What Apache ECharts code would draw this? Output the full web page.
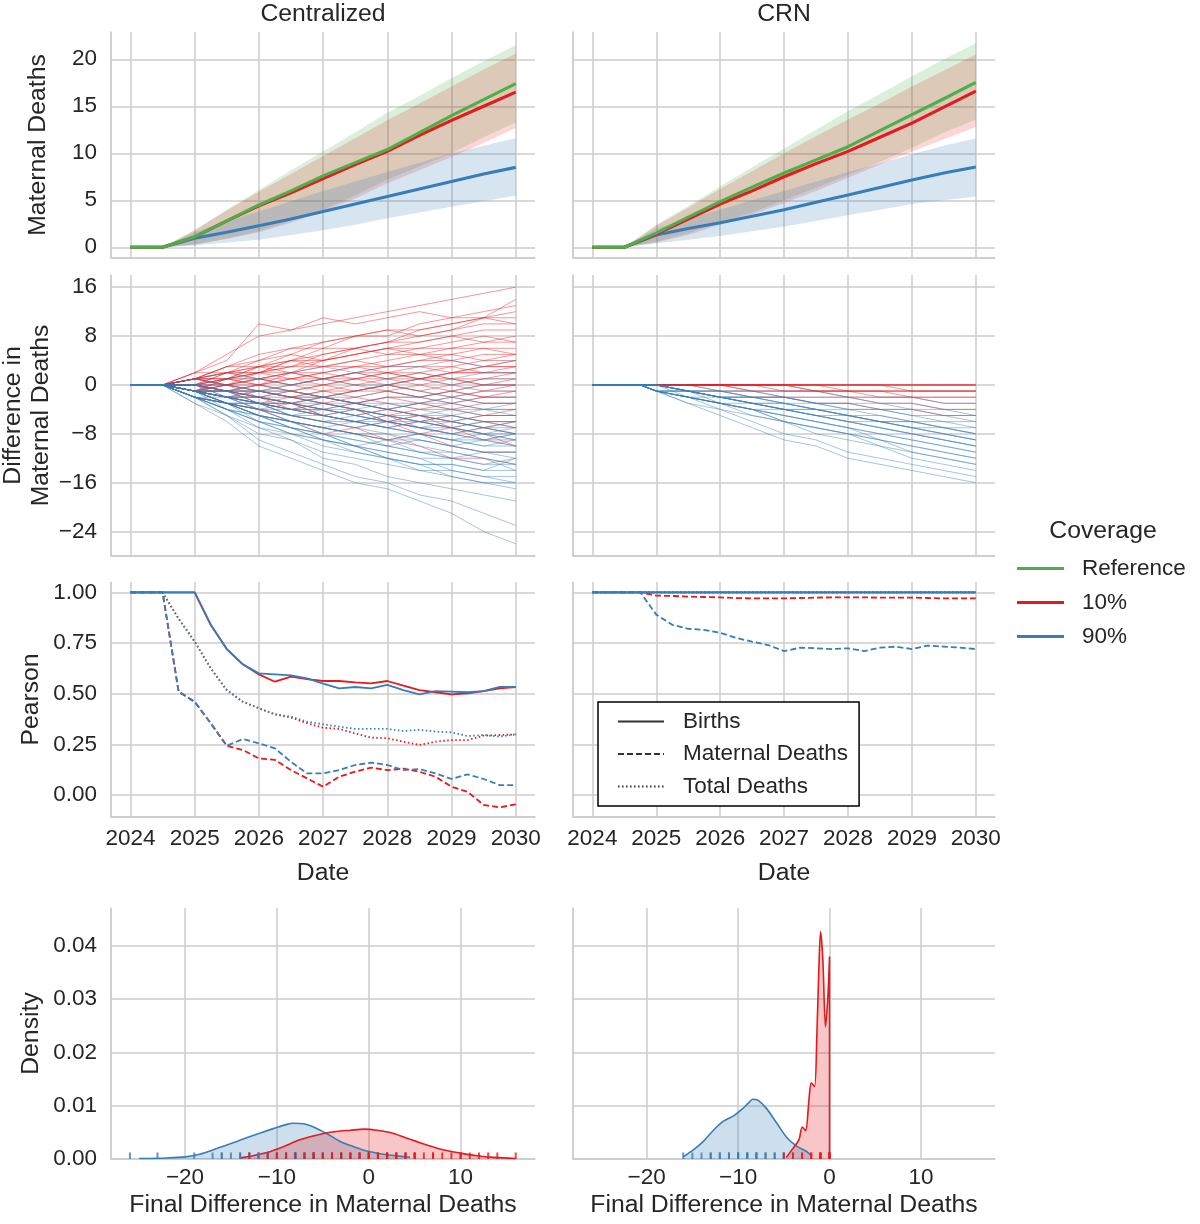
<!DOCTYPE html>
<html>
<head>
<meta charset="utf-8">
<title>Maternal deaths: Centralized vs CRN</title>
<script src="https://cdn.jsdelivr.net/npm/echarts@6/dist/echarts.min.js"></script>
<style>
  html, body { margin: 0; padding: 0; background: #fff; }
  #chart { width: 1200px; height: 1224px; }
</style>
</head>
<body>
<div id="chart"></div>
<script>
// ---------------- data ----------------
const panelNames = ['Centralized', 'CRN'];
const coverageNames = ['Reference', '10%', '90%'];
const measureNames = ['Births', 'Maternal Deaths', 'Total Deaths'];

// row 1: cumulative maternal deaths, mean and interval band
const cumDates = [2024, 2024.5, 2025, 2025.5, 2026, 2026.5, 2027, 2027.5, 2028, 2028.5, 2029, 2029.5, 2030];
const centRef   = [0, 0, 1.1, 2.8, 4.5, 6.0, 7.6, 9.0, 10.4, 12.2, 14.0, 15.7, 17.4];
const centRefLo = [0, 0, 0.3, 0.9, 1.7, 2.8, 4.0, 5.5, 7.2, 8.6, 10.0, 11.7, 13.3];
const centRefHi = [0, 0, 1.8, 4.0, 6.1, 8.2, 10.2, 12.2, 14.3, 16.1, 18.0, 19.8, 21.5];
const cent10    = [0, 0, 1.1, 2.8, 4.4, 5.8, 7.3, 8.8, 10.2, 11.9, 13.5, 15.0, 16.5];
const cent10Lo  = [0, 0, 0.3, 0.9, 1.6, 2.6, 3.8, 5.2, 6.8, 8.2, 9.6, 11.1, 12.7];
const cent10Hi  = [0, 0, 1.8, 3.9, 5.9, 7.8, 9.7, 11.6, 13.5, 15.3, 17.1, 18.9, 20.6];
const cent90    = [0, 0, 0.95, 1.6, 2.3, 3.0, 3.8, 4.6, 5.4, 6.2, 7.0, 7.8, 8.5];
const cent90Lo  = [0, 0, 0.2, 0.5, 0.8, 1.3, 1.8, 2.4, 3.1, 3.7, 4.3, 4.9, 5.5];
const cent90Hi  = [0, 0, 1.6, 2.8, 3.8, 4.9, 6.0, 7.0, 8.0, 9.0, 10.0, 10.8, 11.6];
const crnRef    = [0, 0, 1.5, 3.2, 4.85, 6.4, 7.9, 9.3, 10.7, 12.4, 14.1, 15.8, 17.55];
const crnRefLo  = [0, 0, 0.6, 1.5, 2.6, 3.7, 5.0, 6.3, 7.7, 9.1, 10.6, 12.2, 13.6];
const crnRefHi  = [0, 0, 2.4, 4.4, 6.5, 8.5, 10.5, 12.5, 14.5, 16.3, 18.2, 20.0, 21.7];
const crn10     = [0, 0, 1.4, 3.0, 4.6, 6.0, 7.5, 8.9, 10.2, 11.7, 13.2, 14.9, 16.6];
const crn10Lo   = [0, 0, 0.5, 1.3, 2.4, 3.5, 4.7, 6.0, 7.4, 8.8, 10.2, 11.5, 12.8];
const crn10Hi   = [0, 0, 2.3, 4.2, 6.2, 8.1, 10.0, 11.8, 13.6, 15.3, 17.1, 18.8, 20.5];
const crn90     = [0, 0, 1.3, 2.0, 2.6, 3.3, 4.0, 4.8, 5.55, 6.35, 7.15, 7.9, 8.55];
const crn90Lo   = [0, 0, 0.4, 0.8, 1.2, 1.7, 2.2, 2.8, 3.4, 4.0, 4.6, 5.0, 5.4];
const crn90Hi   = [0, 0, 2.0, 3.0, 4.0, 5.0, 6.0, 7.0, 8.0, 8.9, 9.9, 10.8, 11.6];

// row 2: per-run difference in maternal deaths
const centDiffDates = [2024, 2024.5, 2025, 2025.5, 2026, 2026.5, 2027, 2027.5, 2028, 2028.5, 2029, 2029.5, 2030];
const centDiff10 = [
  [0,0,2,5,8,9,10,11,12,13,14,15,16],
  [0,0,1,3,4,6,7,8,8,10,11,12,13],
  [0,0,2,4,10,9,11,10,11,12,11,11,11],
  [0,0,1,2,4,5,7,8,9,8,9,10,10],
  [0,0,0,1,3,4,4,6,7,7,8,9,9],
  [0,0,1,3,3,5,4,5,6,7,8,7,8],
  [0,0,2,2,3,3,5,6,5,6,6,7,7],
  [0,0,-1,0,2,3,3,4,5,5,6,6,6],
  [0,0,1,1,0,2,3,3,4,5,4,5,5],
  [0,0,0,2,3,2,4,5,6,5,5,6,5],
  [0,0,1,0,1,2,2,3,2,3,3,4,4],
  [0,0,-1,1,2,2,1,2,3,3,2,3,3],
  [0,0,1,2,1,0,1,2,1,2,3,2,2],
  [0,0,0,-1,0,1,2,1,2,1,2,2,2],
  [0,0,1,1,2,1,0,1,0,1,1,0,1],
  [0,0,0,1,0,-1,0,1,1,0,-1,0,0],
  [0,0,-1,-1,0,1,1,0,-1,0,1,0,0],
  [0,0,1,0,-1,-1,-2,-1,0,-1,-2,-1,-1],
  [0,0,0,-1,-2,-1,0,-1,-1,-2,-1,-2,-1],
  [0,0,-1,-2,-1,-2,-3,-2,-1,-2,-3,-2,-2],
  [0,0,0,-1,-1,-2,-2,-3,-2,-3,-4,-3,-3],
  [0,0,-1,0,-2,-3,-2,-3,-4,-3,-2,-3,-3],
  [0,0,-1,-2,-3,-2,-3,-4,-5,-4,-4,-5,-4],
  [0,0,0,-1,-2,-3,-4,-3,-4,-5,-6,-5,-5],
  [0,0,-1,-2,-2,-4,-3,-4,-5,-6,-5,-6,-6],
  [0,0,-1,-1,-3,-4,-5,-4,-6,-5,-7,-6,-7],
  [0,0,-2,-3,-4,-3,-5,-6,-5,-7,-8,-7,-8],
  [0,0,-1,-3,-4,-5,-6,-7,-6,-8,-7,-9,-9],
  [0,0,-2,-3,-5,-6,-7,-8,-9,-8,-10,-11,-11],
  [0,0,-1,-3,-4,-6,-8,-7,-9,-10,-12,-12,-13],
  [0,0,0,1,2,4,5,6,7,9,10,11,12],
  [0,0,1,2,2,3,4,5,6,6,7,8,7],
  [0,0,-1,1,3,4,3,4,3,4,5,4,5],
  [0,0,0,0,1,1,2,3,3,4,4,3,4],
  [0,0,1,1,1,2,1,2,2,1,2,3,3],
  [0,0,0,-1,-1,0,1,1,2,2,1,1,2],
  [0,0,-1,0,1,0,-1,0,1,1,0,1,1],
  [0,0,0,0,-1,-2,-1,-1,0,-1,0,-1,0],
  [0,0,1,0,0,-1,-2,-3,-2,-2,-1,-2,-2],
  [0,0,-1,-1,-2,-2,-1,-2,-3,-4,-3,-4,-4],
  [0,0,0,-2,-3,-4,-4,-5,-4,-5,-6,-7,-6],
  [0,0,-1,-2,-2,-3,-5,-6,-7,-6,-7,-8,-10],
  [0,0,1,3,5,6,6,8,9,9,10,11,10],
  [0,0,0,2,2,4,6,6,7,8,9,11,14],
  [0,0,-1,-2,-3,-3,-2,-1,0,1,2,2,3]
];
const centDiff90 = [
  [0,0,1,2,1,2,3,2,3,3,4,3,4],
  [0,0,0,1,1,0,1,2,1,2,1,2,2],
  [0,0,1,0,-1,0,1,0,0,1,0,1,1],
  [0,0,0,-1,0,-1,-2,-1,0,-1,-2,-1,-1],
  [0,0,-1,-1,-2,-1,-2,-3,-2,-2,-3,-2,-2],
  [0,0,0,-1,-2,-3,-2,-3,-4,-3,-3,-4,-3],
  [0,0,-1,-2,-1,-2,-3,-4,-3,-4,-5,-4,-4],
  [0,0,-1,-1,-3,-3,-4,-3,-4,-5,-4,-5,-5],
  [0,0,0,-2,-2,-3,-4,-5,-4,-5,-6,-5,-5],
  [0,0,-1,-2,-3,-4,-3,-4,-5,-6,-5,-6,-6],
  [0,0,-1,-3,-3,-4,-5,-4,-6,-5,-6,-7,-6],
  [0,0,-2,-2,-3,-5,-4,-5,-6,-7,-6,-7,-7],
  [0,0,-1,-2,-4,-4,-5,-6,-5,-6,-7,-6,-7],
  [0,0,-1,-3,-4,-5,-6,-5,-6,-7,-8,-7,-8],
  [0,0,-2,-3,-3,-4,-5,-6,-7,-6,-7,-8,-8],
  [0,0,-1,-2,-3,-5,-6,-7,-6,-7,-8,-9,-8],
  [0,0,-2,-3,-4,-5,-5,-6,-7,-8,-9,-8,-9],
  [0,0,-1,-3,-5,-6,-7,-6,-7,-8,-9,-10,-9],
  [0,0,-2,-4,-5,-6,-7,-8,-9,-8,-9,-10,-10],
  [0,0,-1,-2,-4,-6,-7,-8,-8,-9,-10,-9,-10],
  [0,0,-2,-3,-5,-6,-8,-9,-10,-9,-10,-11,-11],
  [0,0,-1,-3,-5,-7,-8,-9,-10,-11,-12,-11,-12],
  [0,0,-2,-4,-6,-7,-8,-10,-9,-11,-12,-13,-12],
  [0,0,-2,-3,-6,-8,-9,-10,-11,-12,-12,-13,-13],
  [0,0,-1,-4,-6,-7,-9,-11,-12,-13,-13,-14,-14],
  [0,0,-2,-4,-7,-8,-10,-11,-12,-14,-14,-15,-15],
  [0,0,-2,-5,-7,-9,-11,-12,-13,-14,-15,-16,-16],
  [0,0,-3,-5,-8,-9,-12,-13,-15,-16,-17,-18,-19],
  [0,0,-2,-5,-9,-11,-13,-15,-16,-18,-19,-21,-23],
  [0,0,-3,-6,-10,-12,-14,-16,-17,-19,-21,-24,-26],
  [0,0,0,-1,-1,-2,-2,-3,-3,-3,-2,-3,-3],
  [0,0,-1,-1,-2,-3,-4,-4,-5,-5,-5,-6,-6],
  [0,0,-1,-2,-3,-3,-4,-5,-6,-7,-7,-8,-7],
  [0,0,0,-1,-3,-4,-4,-5,-6,-6,-7,-8,-9],
  [0,0,-2,-3,-3,-4,-5,-6,-6,-7,-8,-9,-8],
  [0,0,-1,-2,-4,-5,-6,-6,-7,-8,-9,-9,-10],
  [0,0,-1,-3,-4,-6,-7,-8,-9,-9,-10,-11,-11],
  [0,0,-2,-3,-5,-6,-7,-8,-10,-11,-11,-12,-13],
  [0,0,-1,-2,-3,-5,-6,-7,-8,-10,-11,-12,-14],
  [0,0,-2,-4,-5,-7,-9,-10,-11,-12,-14,-15,-16],
  [0,0,-1,-3,-5,-7,-8,-10,-12,-13,-15,-16,-17],
  [0,0,0,0,-1,-1,-2,-2,-1,-2,-1,0,0],
  [0,0,-1,-1,-1,-2,-3,-3,-4,-3,-4,-4,-5],
  [0,0,-2,-4,-6,-8,-9,-10,-12,-13,-13,-14,-12],
  [0,0,-1,-2,-2,-3,-3,-4,-5,-6,-6,-7,-8]
];
const crnDiffDates = [2024, 2024.75, 2025, 2025.5, 2026, 2026.5, 2027, 2027.5, 2028, 2028.5, 2029, 2029.5, 2030];
const crnDiff10 = [
  [0,0,0,0,0,0,0,0,0,0,0,0,0],
  [0,0,0,0,0,0,0,0,0,0,0,0,0],
  [0,0,0,0,0,0,0,0,0,0,0,0,0],
  [0,0,0,0,0,0,0,0,0,0,0,0,0],
  [0,0,0,0,0,0,0,0,-1,-1,-1,-1,-1],
  [0,0,0,0,0,0,0,-1,-1,-1,-1,-1,-1],
  [0,0,0,0,0,0,0,0,0,0,-1,-1,-1],
  [0,0,0,0,0,0,-1,-1,-1,-1,-1,-1,-1],
  [0,0,0,0,0,0,0,-1,-1,-1,-2,-2,-2],
  [0,0,0,0,0,-1,-1,-1,-1,-2,-2,-2,-2],
  [0,0,0,0,0,-1,-1,-1,-2,-2,-2,-3,-3],
  [0,0,0,0,-1,-1,-2,-2,-2,-3,-3,-4,-4],
  [0,0,0,-1,-1,-2,-2,-3,-3,-4,-4,-5,-5]
];
const crnDiff90 = [
  [0,0,0,0,-1,-1,-1,-1,-2,-2,-2,-3,-3],
  [0,0,0,-1,-1,-1,-2,-2,-2,-3,-3,-4,-4],
  [0,0,0,-1,-1,-2,-2,-3,-3,-4,-4,-5,-5],
  [0,0,-1,-1,-2,-2,-2,-3,-3,-3,-4,-4,-5],
  [0,0,0,-1,-2,-2,-3,-3,-4,-4,-5,-5,-6],
  [0,0,0,-1,-1,-2,-2,-3,-4,-4,-5,-6,-6],
  [0,0,0,-1,-2,-2,-3,-4,-4,-5,-6,-6,-7],
  [0,0,-1,-1,-2,-3,-3,-4,-5,-5,-6,-7,-7],
  [0,0,0,-1,-2,-3,-3,-4,-5,-6,-6,-7,-8],
  [0,0,-1,-1,-2,-3,-4,-4,-5,-6,-7,-7,-8],
  [0,0,0,-1,-2,-2,-3,-4,-5,-6,-6,-7,-8],
  [0,0,0,-1,-2,-3,-4,-5,-5,-6,-7,-8,-9],
  [0,0,-1,-2,-2,-3,-4,-5,-6,-6,-7,-8,-9],
  [0,0,0,-1,-2,-3,-4,-4,-5,-6,-7,-8,-9],
  [0,0,-1,-1,-2,-3,-4,-5,-6,-7,-8,-9,-10],
  [0,0,0,-2,-3,-3,-4,-5,-6,-7,-8,-9,-10],
  [0,0,-1,-2,-3,-4,-4,-5,-6,-7,-8,-9,-10],
  [0,0,-1,-2,-3,-4,-5,-6,-7,-8,-9,-10,-11],
  [0,0,0,-1,-3,-4,-5,-6,-7,-8,-9,-10,-11],
  [0,0,-1,-2,-3,-4,-5,-6,-7,-9,-10,-11,-12],
  [0,0,-1,-2,-3,-4,-6,-7,-8,-9,-10,-11,-12],
  [0,0,-1,-2,-3,-5,-6,-7,-8,-9,-11,-12,-13],
  [0,0,-1,-2,-3,-4,-6,-7,-8,-10,-11,-12,-13],
  [0,0,-1,-2,-4,-5,-6,-8,-9,-10,-12,-13,-14],
  [0,0,-1,-3,-4,-6,-8,-9,-11,-12,-13,-14,-15],
  [0,0,-1,-3,-5,-7,-9,-10,-12,-13,-14,-15,-16]
];

// row 3: Pearson correlation, quarterly
const pearsonDates = [2024, 2024.25, 2024.5, 2024.75, 2025, 2025.25, 2025.5, 2025.75, 2026, 2026.25, 2026.5, 2026.75,
  2027, 2027.25, 2027.5, 2027.75, 2028, 2028.25, 2028.5, 2028.75, 2029, 2029.25, 2029.5, 2029.75, 2030];
const centBirths10 = [1,1,1,1,1,0.84,0.72,0.645,0.595,0.559,0.584,0.572,0.5625,0.5625,0.556,0.551,0.5625,0.54,0.518,0.507,0.497,0.502,0.513,0.526,0.533];
const centBirths90 = [1,1,1,1,1,0.84,0.72,0.645,0.60,0.595,0.59,0.575,0.55,0.526,0.533,0.526,0.543,0.518,0.497,0.513,0.51,0.507,0.513,0.533,0.533];
const centMD10 = [1,1,1,0.51,0.46,0.354,0.243,0.222,0.181,0.173,0.123,0.082,0.041,0.09,0.115,0.135,0.123,0.13,0.115,0.09,0.041,0.016,-0.049,-0.061,-0.046];
const centMD90 = [1,1,1,0.51,0.46,0.354,0.243,0.276,0.255,0.23,0.164,0.107,0.107,0.123,0.148,0.16,0.148,0.123,0.128,0.107,0.079,0.102,0.079,0.049,0.049];
const centTD10 = [1,1,1,0.87,0.757,0.625,0.518,0.46,0.428,0.398,0.382,0.354,0.332,0.326,0.304,0.283,0.28,0.263,0.247,0.263,0.271,0.271,0.293,0.296,0.299];
const centTD90 = [1,1,1,0.87,0.757,0.625,0.518,0.46,0.428,0.398,0.387,0.362,0.349,0.337,0.326,0.326,0.326,0.316,0.322,0.3125,0.309,0.291,0.296,0.288,0.299];
const crnBirths10 = [1,1,1,1,1,1,1,1,1,1,1,1,1,1,1,1,1,1,1,1,1,1,1,1,1];
const crnBirths90 = [1,1,1,1,1,1,1,1,1,1,1,1,1,1,1,1,1,1,1,1,1,1,1,1,1];
const crnMD10 = [1,1,1,1,0.984,0.982,0.979,0.977,0.975,0.972,0.97,0.97,0.97,0.972,0.974,0.975,0.975,0.975,0.974,0.974,0.974,0.972,0.97,0.97,0.97];
const crnMD90 = [1,1,1,1,0.89,0.84,0.82,0.815,0.80,0.775,0.757,0.74,0.71,0.727,0.724,0.72,0.724,0.71,0.727,0.732,0.72,0.737,0.732,0.727,0.72];
const crnTD10 = [1,1,1,1,1,1,1,1,1,1,1,1,1,1,1,1,1,1,1,1,1,1,1,1,1];
const crnTD90 = [1,1,1,1,1,1,1,1,1,1,1,1,1,1,1,1,1,1,1,1,1,1,1,1,1];

// row 4: density of the final difference
const centKde90X = [-25, -22, -20, -18.4, -16.5, -14.7, -13.3, -11.8, -10.4, -8.9, -8.2, -7.1, -6.0, -4.5, -3.1, -1.6, -0.2, 1.6, 3.5, 4.5];
const centKde90Y = [0.0001, 0.0002, 0.0004, 0.0009, 0.002, 0.0031, 0.004, 0.0049, 0.0057, 0.0065, 0.0067, 0.0066, 0.006, 0.0047, 0.0033, 0.0023, 0.0015, 0.0009, 0.0005, 0.0003];
const centKde10X = [-14, -12.9, -11.1, -9.3, -7.5, -5.6, -3.8, -2.0, -0.5, 0.9, 2.7, 4.5, 6.4, 8.2, 10, 11.8, 13.6, 16];
const centKde10Y = [0.0002, 0.0005, 0.0012, 0.0023, 0.0036, 0.0045, 0.0051, 0.0054, 0.0056, 0.0054, 0.0048, 0.0037, 0.0026, 0.0017, 0.0011, 0.0006, 0.0003, 0.0001];
const crnKde90X = [-16, -14.9, -13.8, -12.7, -11.6, -10.5, -9.6, -8.7, -8.4, -7.8, -6.9, -5.8, -4.7, -3.6, -2.5, -2.0];
const crnKde90Y = [0.0004, 0.0017, 0.0033, 0.0054, 0.0071, 0.0081, 0.0093, 0.0108, 0.0112, 0.011, 0.0095, 0.0068, 0.0041, 0.0024, 0.0014, 0.0006];
const crnKde10X = [-4.73, -4.0, -3.35, -2.98, -2.62, -2.25, -2.0, -1.64, -1.38, -1.16, -0.98, -0.73, -0.44, -0.18, 0, 0];
const crnKde10Y = [0.0003, 0.002, 0.0036, 0.006, 0.0053, 0.0111, 0.0143, 0.0136, 0.0236, 0.0361, 0.0427, 0.0374, 0.0248, 0.0305, 0.038, 0];

// ---------------- styling ----------------
const FONT = '"Liberation Sans", Arial, sans-serif';
const TEXT = '#262626';
const GRIDC = '#cccccc';
const GREEN = '#4daf4a', RED = '#e41a1c', BLUE = '#377eb8';
const BAND = { g: 'rgba(77,175,74,0.2)', r: 'rgba(228,26,28,0.18)', b: 'rgba(55,126,184,0.2)' };
const TICK_FS = 22.5, LABEL_FS = 24.75;

const colX = [111, 573], colW = [424, 422];
const rowY = [32, 275, 582, 908], rowH = [226, 281, 235, 251];

const grids = [];
for (let r = 0; r < 4; r++) {
  for (let c = 0; c < 2; c++) {
    grids.push({ left: colX[c], top: rowY[r], width: colW[c], height: rowH[r],
      containLabel: false, outerBoundsMode: 'none' });
  }
}

const minus = s => String(s).replace('-', '\u2212');
const onStep = (v, step) => Math.abs(v / step - Math.round(v / step)) < 1e-6;

function axisBase(i, min, max, step, fmt, showLabel, margin) {
  return {
    type: 'value', gridIndex: i, min: min, max: max,
    minInterval: step, maxInterval: step, splitNumber: 6,
    axisLine: { show: true, onZero: false, lineStyle: { color: GRIDC, width: 1.5 } },
    axisTick: { show: false },
    splitLine: { show: true, showMaxLine: false, lineStyle: { color: GRIDC, width: 1.5 } },
    axisLabel: {
      show: showLabel, margin: margin, fontSize: TICK_FS, fontFamily: FONT, color: TEXT,
      formatter: v => onStep(v, step) ? fmt(v) : ''
    },
    nameTextStyle: { fontSize: LABEL_FS, fontFamily: FONT, color: TEXT }
  };
}

const yearFmt = v => String(Math.round(v));
const xAxes = [], yAxes = [];
const dateMin = 2023.697, dateMax = 2030.3;
const yRanges = [
  { min: -1.14, max: 22.9, step: 5, fmt: v => String(Math.round(v)), name: 'Maternal Deaths', gap: 59 },
  { min: -28.0, max: 18.0, step: 8, fmt: v => minus(Math.round(v)), name: 'Difference in\nMaternal Deaths', gap: 54 },
  { min: -0.1085, max: 1.051, step: 0.25, fmt: v => v.toFixed(2), name: 'Pearson', gap: 66 },
  { min: 0, max: 0.0471, step: 0.01, fmt: v => v.toFixed(2), name: 'Density', gap: 66 }
];
for (let r = 0; r < 4; r++) {
  for (let c = 0; c < 2; c++) {
    const i = r * 2 + c;
    let xa;
    if (r < 3) {
      xa = axisBase(i, dateMin, dateMax, 1, yearFmt, r === 2, 10);
      if (r === 2) { xa.name = 'Date'; xa.nameLocation = 'middle'; xa.nameGap = 44; }
    } else {
      xa = axisBase(i, -28.06, 18.1, 10, v => minus(Math.round(v)), true, 7);
      xa.name = 'Final Difference in Maternal Deaths'; xa.nameLocation = 'middle'; xa.nameGap = 34;
    }
    xAxes.push(xa);
    const yr = yRanges[r];
    const ya = axisBase(i, yr.min, yr.max, yr.step, yr.fmt, c === 0, 14);
    if (c === 0) {
      ya.name = yr.name; ya.nameLocation = 'middle'; ya.nameGap = yr.gap;
      ya.nameTextStyle.lineHeight = 28;
    }
    yAxes.push(ya);
  }
}

// ---------------- series builders ----------------
const pairs = (xs, ys) => xs.map((x, k) => [x, ys[k]]);

// interval band drawn as one polygon through the axis scales
function band(i, dates, lo, hi, fill) {
  return {
    type: 'custom', xAxisIndex: i, yAxisIndex: i, silent: true, z: 1,
    encode: { x: 0, y: [1, 2] },
    data: dates.map((d, k) => [d, lo[k], hi[k]]),
    renderItem: (params, api) => {
      if (params.dataIndex !== 0) return null;
      const top = dates.map((d, k) => api.coord([d, hi[k]]));
      const bottom = dates.map((d, k) => api.coord([d, lo[k]])).reverse();
      return { type: 'polygon', shape: { points: top.concat(bottom) }, style: { fill: fill } };
    }
  };
}
function meanLine(i, dates, vals, color, name) {
  return { type: 'line', name: name, xAxisIndex: i, yAxisIndex: i, symbol: 'none', silent: true,
    lineStyle: { color: color, width: 3.1 }, itemStyle: { color: color }, data: pairs(dates, vals), z: 3 };
}
function spaghetti(i, dates, lines, color) {
  return lines.map(vals => ({ type: 'line', xAxisIndex: i, yAxisIndex: i, symbol: 'none', silent: true,
    lineStyle: { color: color, width: 0.9, opacity: 0.5 }, data: pairs(dates, vals), z: 2 }));
}
const dashTypes = { 'Births': 'solid', 'Maternal Deaths': [6, 3], 'Total Deaths': [1.5, 2.5] };
function pearson(i, vals, color, measure) {
  return { type: 'line', xAxisIndex: i, yAxisIndex: i, symbol: 'none', silent: true,
    lineStyle: { color: color, width: 1.8, type: dashTypes[measure] }, data: pairs(pearsonDates, vals), z: 3 };
}
function density(i, xs, ys, color) {
  return { type: 'line', xAxisIndex: i, yAxisIndex: i, symbol: 'none', silent: true, smooth: 0.3,
    lineStyle: { color: color, width: 1.6 }, areaStyle: { color: color, opacity: 0.25 },
    data: pairs(xs, ys), z: 2 };
}
function rug(i, lines, color) {
  const finals = lines.map(l => [l[l.length - 1], 0]);
  return { type: 'scatter', xAxisIndex: i, yAxisIndex: i, silent: true, clip: false,
    symbol: 'rect', symbolSize: [2, 6.5], symbolOffset: [0, -3.25],
    itemStyle: { color: color }, data: finals, z: 4 };
}

const series = [].concat(
  // row 1
  band(0, cumDates, centRefLo, centRefHi, BAND.g),
  band(0, cumDates, cent10Lo, cent10Hi, BAND.r),
  band(0, cumDates, cent90Lo, cent90Hi, BAND.b),
  meanLine(0, cumDates, cent90, BLUE, '90%'),
  meanLine(0, cumDates, cent10, RED, '10%'),
  meanLine(0, cumDates, centRef, GREEN, 'Reference'),
  band(1, cumDates, crnRefLo, crnRefHi, BAND.g),
  band(1, cumDates, crn10Lo, crn10Hi, BAND.r),
  band(1, cumDates, crn90Lo, crn90Hi, BAND.b),
  meanLine(1, cumDates, crn90, BLUE, '90%'),
  meanLine(1, cumDates, crn10, RED, '10%'),
  meanLine(1, cumDates, crnRef, GREEN, 'Reference'),
  // row 2
  spaghetti(2, centDiffDates, centDiff10, RED),
  spaghetti(2, centDiffDates, centDiff90, BLUE),
  spaghetti(3, crnDiffDates, crnDiff10, RED),
  spaghetti(3, crnDiffDates, crnDiff90, BLUE),
  // row 3
  [pearson(4, centBirths10, RED, 'Births'), pearson(4, centMD10, RED, 'Maternal Deaths'), pearson(4, centTD10, RED, 'Total Deaths'),
   pearson(4, centBirths90, BLUE, 'Births'), pearson(4, centMD90, BLUE, 'Maternal Deaths'), pearson(4, centTD90, BLUE, 'Total Deaths'),
   pearson(5, crnTD10, RED, 'Total Deaths'), pearson(5, crnMD10, RED, 'Maternal Deaths'), pearson(5, crnBirths10, RED, 'Births'),
   pearson(5, crnTD90, BLUE, 'Total Deaths'), pearson(5, crnMD90, BLUE, 'Maternal Deaths'), pearson(5, crnBirths90, BLUE, 'Births')],
  // legend entries for the line styles
  measureNames.map(m => ({ type: 'line', name: m, xAxisIndex: 5, yAxisIndex: 5, symbol: 'none', data: [],
    lineStyle: { color: '#333333', width: 1.5, type: dashTypes[m] }, itemStyle: { color: '#333333' } })),
  // row 4
  [density(6, centKde90X, centKde90Y, BLUE), density(6, centKde10X, centKde10Y, RED),
   density(7, crnKde90X, crnKde90Y, BLUE), density(7, crnKde10X, crnKde10Y, RED),
   rug(6, centDiff90, BLUE), rug(6, centDiff10, RED),
   rug(7, crnDiff90, BLUE), rug(7, crnDiff10, RED)]
);

const textEl = (x, y, text, size) => ({
  type: 'text', x: x, y: y, silent: true,
  style: { text: text, fontSize: size, fontFamily: FONT, fill: TEXT,
    align: 'center', verticalAlign: 'middle', textAlign: 'center', textVerticalAlign: 'middle' }
});

const option = {
  animation: false,
  backgroundColor: '#ffffff',
  grid: grids,
  xAxis: xAxes,
  yAxis: yAxes,
  legend: [
    { data: coverageNames, orient: 'vertical', left: 1017, top: 557, padding: 0,
      icon: 'rect', itemWidth: 47, itemHeight: 3, itemGap: 11, selectedMode: false,
      textStyle: { fontSize: TICK_FS, fontFamily: FONT, color: TEXT, padding: [0, 0, 0, 13] } },
    { data: measureNames, orient: 'vertical', left: 598, top: 702, padding: [8, 11, 8, 19],
      itemWidth: 46, itemHeight: 14, itemGap: 9.5, selectedMode: false,
      itemStyle: { opacity: 0, color: 'rgba(0,0,0,0)', borderWidth: 0 },
      borderColor: '#000000', borderWidth: 1.5, borderRadius: 0, backgroundColor: '#ffffff', z: 10,
      textStyle: { fontSize: TICK_FS, fontFamily: FONT, color: TEXT, padding: [0, 0, 0, 14] } }
  ],
  graphic: [
    textEl(colX[0] + colW[0] / 2, 14, panelNames[0], LABEL_FS),
    textEl(colX[1] + colW[1] / 2, 14, panelNames[1], LABEL_FS),
    textEl(1103, 531, 'Coverage', LABEL_FS)
  ],
  series: series
};

const chart = echarts.init(document.getElementById('chart'));
chart.setOption(option);
</script>
</body>
</html>
